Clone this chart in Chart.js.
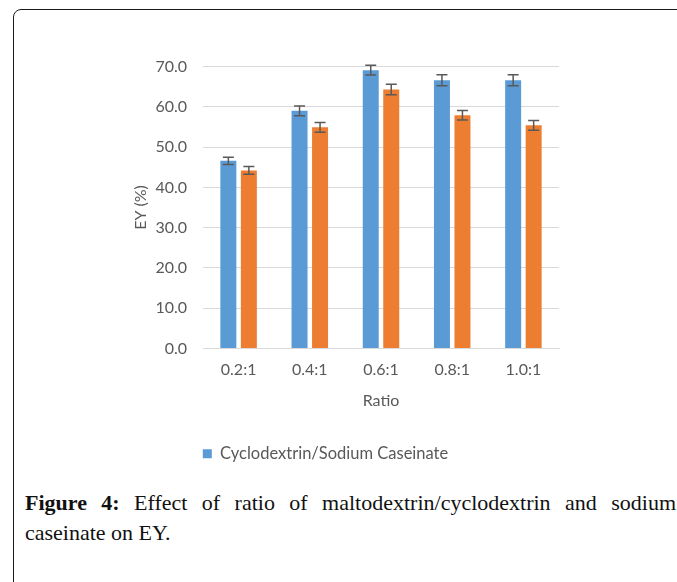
<!DOCTYPE html>
<html><head><meta charset="utf-8">
<script src="https://cdn.jsdelivr.net/npm/chart.js@4"></script>
<style>
html,body{margin:0;padding:0;background:#fff;}
#clip{position:absolute;left:0;top:0;width:677px;height:582px;overflow:hidden;}
#frame{position:absolute;left:13px;top:9px;width:760px;height:640px;border:1.5px solid #1b1b1b;border-radius:8px;box-sizing:border-box;}
#wrap{position:absolute;left:0;top:0;width:677px;height:480px;}
.cap{position:absolute;left:25px;width:651px;font-family:"Liberation Serif",serif;font-size:22px;line-height:30px;color:#111;white-space:nowrap;}
#cap1{top:488px;text-align:justify;text-align-last:justify;}
#cap2{top:518px;}
</style></head>
<body>
<div id="clip">
<div id="frame"></div>
<div id="wrap"><canvas id="c" width="677" height="480"></canvas></div>
<div class="cap" id="cap1"><b>Figure 4:</b> Effect of ratio of maltodextrin/cyclodextrin and sodium</div>
<div class="cap" id="cap2">caseinate on EY.</div>
</div>
<script>
const categories = ['0.2:1', '0.4:1', '0.6:1', '0.8:1', '1.0:1'];
const cyclodextrinValues = [46.6, 59.0, 69.1, 66.6, 66.6];
const cyclodextrinErrors = [0.9, 1.2, 1.2, 1.35, 1.35];
const maltodextrinValues = [44.2, 54.9, 64.3, 57.9, 55.4];
const maltodextrinErrors = [0.95, 1.2, 1.3, 1.2, 1.2];
const seriesNames = ['Cyclodextrin/Sodium Caseinate', 'Maltodextrin/Sodium Caseinate'];
const yTicks = [0, 10, 20, 30, 40, 50, 60, 70];
const yTitle = 'EY (%)';
const xTitle = 'Ratio';

const errorsBySeries = [cyclodextrinErrors, maltodextrinErrors];
const textColor = '#595959';
const chartFont = {family: 'Lato, "Open Sans", sans-serif', size: 16};
const legendFont = {family: 'Lato, "Open Sans", sans-serif', size: 16.5};

const errorBars = {
  id: 'errorBars',
  afterDatasetsDraw(chart) {
    const ctx = chart.ctx;
    const yScale = chart.scales.y;
    ctx.save();
    ctx.strokeStyle = '#595959';
    ctx.lineWidth = 1.5;
    chart.data.datasets.forEach((ds, di) => {
      const meta = chart.getDatasetMeta(di);
      const errs = errorsBySeries[di];
      meta.data.forEach((bar, i) => {
        const v = ds.data[i], e = errs[i];
        const yT = yScale.getPixelForValue(v + e);
        const yB = yScale.getPixelForValue(v - e);
        const x = bar.x, w = 5.5;
        ctx.beginPath();
        ctx.moveTo(x, yT); ctx.lineTo(x, yB);
        ctx.moveTo(x - w, yT); ctx.lineTo(x + w, yT);
        ctx.moveTo(x - w, yB); ctx.lineTo(x + w, yB);
        ctx.stroke();
      });
    });
    ctx.restore();
  }
};

new Chart(document.getElementById('c'), {
  type: 'bar',
  data: {
    labels: categories,
    datasets: [
      {label: seriesNames[0], data: cyclodextrinValues, backgroundColor: '#5B9BD5',
       categoryPercentage: 0.576, barPercentage: 0.78},
      {label: seriesNames[1], data: maltodextrinValues, backgroundColor: '#ED7D31',
       categoryPercentage: 0.576, barPercentage: 0.78}
    ]
  },
  options: {
    responsive: false,
    animation: false,
    devicePixelRatio: 1,
    layout: {padding: {left: 92, right: 118, top: 66.5, bottom: 8}},
    plugins: {
      tooltip: {enabled: false},
      legend: {
        position: 'bottom',
        labels: {
          boxWidth: 9, boxHeight: 9, padding: 10, color: textColor, font: legendFont,
          filter: (item) => item.datasetIndex === 0
        }
      }
    },
    scales: {
      x: {
        grid: {display: false, drawTicks: false},
        border: {display: true, color: '#D9D9D9', width: 1},
        ticks: {color: textColor, font: chartFont, padding: 12, maxRotation: 0},
        title: {display: true, text: xTitle, color: textColor, font: chartFont, padding: {top: 4, bottom: 25.4}},
        afterFit(scale) { scale.height = 87; }
      },
      y: {
        min: 0, max: 70,
        afterBuildTicks(scale) { scale.ticks = yTicks.map(v => ({value: v})); },
        grid: {color: '#D9D9D9', lineWidth: 1, drawTicks: false},
        border: {display: false},
        ticks: {color: textColor, font: chartFont, padding: 16, callback: (v) => Number(v).toFixed(1)},
        title: {display: true, text: yTitle, color: textColor, font: chartFont, padding: {top: 39.4, bottom: 4}},
        afterFit(scale) { scale.width = 111; }
      }
    }
  },
  plugins: [errorBars]
});
</script>
</body></html>
